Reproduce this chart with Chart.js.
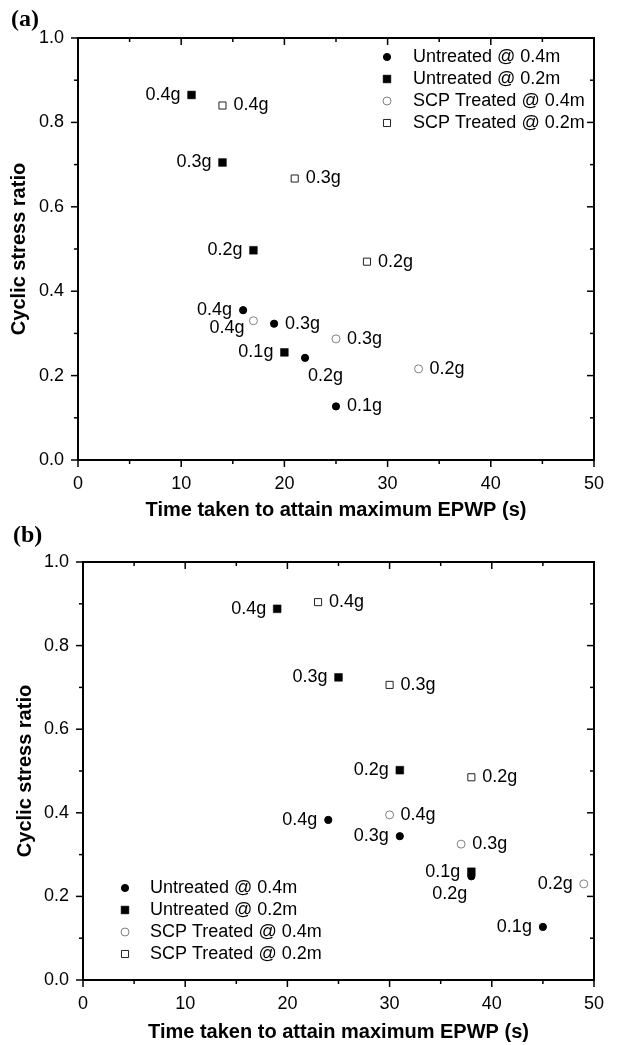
<!DOCTYPE html>
<html>
<head>
<meta charset="utf-8">
<script src="https://cdn.jsdelivr.net/npm/chart.js@4.4.1/dist/chart.umd.min.js"></script>
<style>
  body { margin: 0; background: #fff; }
  #wrap { position: relative; width: 617px; height: 1045px; }
  canvas { position: absolute; left: 0; top: 0; }
</style>
</head>
<body>
<div id="wrap">
  <canvas id="ca" width="617" height="1045"></canvas>
  <canvas id="cb" width="617" height="1045"></canvas>
</div>
<script>
// ---- data: panel (a)
const aU04x = [16, 19, 22, 25];
const aU04y = [0.355, 0.323, 0.242, 0.127];
const aU04g = ["0.4g", "0.3g", "0.2g", "0.1g"];
const aU02x = [11, 14, 17, 20];
const aU02y = [0.865, 0.705, 0.497, 0.255];
const aU02g = ["0.4g", "0.3g", "0.2g", "0.1g"];
const aS04x = [17, 25, 33];
const aS04y = [0.33, 0.287, 0.216];
const aS04g = ["0.4g", "0.3g", "0.2g"];
const aS02x = [14, 21, 28];
const aS02y = [0.84, 0.667, 0.47];
const aS02g = ["0.4g", "0.3g", "0.2g"];

// ---- data: panel (b)
const bU04x = [24, 31, 38, 45];
const bU04y = [0.383, 0.344, 0.248, 0.127];
const bU04g = ["0.4g", "0.3g", "0.2g", "0.1g"];
const bU02x = [19, 25, 31, 38];
const bU02y = [0.888, 0.724, 0.502, 0.259];
const bU02g = ["0.4g", "0.3g", "0.2g", "0.1g"];
const bS04x = [30, 37, 49];
const bS04y = [0.395, 0.325, 0.23];
const bS04g = ["0.4g", "0.3g", "0.2g"];
const bS02x = [23, 30, 38];
const bS02y = [0.904, 0.706, 0.485];
const bS02g = ["0.4g", "0.3g", "0.2g"];

const seriesNames = ["Untreated @ 0.4m", "Untreated @ 0.2m", "SCP Treated @ 0.4m", "SCP Treated @ 0.2m"];
const xTicks = [0, 10, 20, 30, 40, 50];
const yTicks = [0, 0.2, 0.4, 0.6, 0.8, 1.0];

const FONT = "'Liberation Sans', Arial, sans-serif";

function pts(xs, ys) {
  return xs.map((x, i) => ({ x: x, y: ys[i] }));
}

// marker styles for the 4 series
const styles = [
  { pointStyle: "circle", pointRadius: 3.6, backgroundColor: "#000", borderColor: "#000", borderWidth: 1 },
  { pointStyle: "rect", pointRadius: 5.5, backgroundColor: "#000", borderColor: "#000", borderWidth: 0.5 },
  { pointStyle: "circle", pointRadius: 4, backgroundColor: "#fff", borderColor: "#808080", borderWidth: 1 },
  { pointStyle: "rect", pointRadius: 5, backgroundColor: "#fff", borderColor: "#222", borderWidth: 1 },
];

function line(ctx, x1, y1, x2, y2) {
  ctx.beginPath();
  ctx.moveTo(x1, y1);
  ctx.lineTo(x2, y2);
  ctx.stroke();
}

function marker(ctx, st, x, y) {
  ctx.fillStyle = st.backgroundColor;
  ctx.strokeStyle = st.borderColor;
  ctx.lineWidth = st.borderWidth;
  ctx.beginPath();
  if (st.pointStyle === "circle") {
    ctx.arc(x, y, st.pointRadius, 0, Math.PI * 2);
  } else {
    const s = st.pointRadius * Math.SQRT1_2;
    ctx.rect(x - s, y - s, 2 * s, 2 * s);
  }
  ctx.fill();
  if (st.borderWidth > 0) ctx.stroke();
}

// frame, minor ticks, point tags, legend, panel letter
const decor = {
  id: "decor",
  afterDatasetsDraw(chart, args, opts) {
    const ctx = chart.ctx;
    ctx.save();
    ctx.font = "18px " + FONT;
    ctx.fillStyle = "#000";
    ctx.textBaseline = "middle";
    chart.data.datasets.forEach((ds, i) => {
      const meta = chart.getDatasetMeta(i);
      meta.data.forEach((pt, j) => {
        const p = opts.place[i][j];
        let x = pt.x, y = pt.y;
        if (p === "l") { ctx.textAlign = "right"; x -= 11; }
        else if (p === "r") { ctx.textAlign = "left"; x += 11; }
        else if (p === "b") { ctx.textAlign = "left"; x += 3; y += 18; }
        else if (p === "bl") { ctx.textAlign = "right"; x -= 4; y += 18; }
        else if (p === "lb") { ctx.textAlign = "right"; x -= 9; y += 7; }
        ctx.fillText(ds.tags[j], x, y);
      });
    });
    ctx.restore();
  },
  afterDraw(chart, args, opts) {
    const ctx = chart.ctx;
    const { left, right, top, bottom } = chart.chartArea;
    const xs = chart.scales.x, ys = chart.scales.y;
    ctx.save();
    ctx.strokeStyle = "#000";
    ctx.lineWidth = 2;
    ctx.strokeRect(left, top, right - left, bottom - top);
    ctx.lineWidth = 1.5;
    for (let v = xs.min; v <= xs.max + 1e-9; v += 5) {
      const px = xs.getPixelForValue(v);
      const len = Math.round(v) % 10 === 0 ? 7 : 4;
      line(ctx, px, bottom, px, bottom + len);
      line(ctx, px, top, px, top + len);
    }
    for (let k = 0; k <= 10; k++) {
      const py = ys.getPixelForValue(k / 10);
      const len = k % 2 === 0 ? 7 : 4;
      line(ctx, left - len, py, left, py);
      line(ctx, right, py, right - len, py);
    }

    // legend
    const L = opts.legend;
    ctx.font = "18px " + FONT;
    ctx.textBaseline = "middle";
    ctx.textAlign = "left";
    chart.data.datasets.forEach((ds, i) => {
      const y = L.y + i * L.gap;
      marker(ctx, styles[i], L.x, y);
      ctx.fillStyle = "#000";
      ctx.fillText(ds.label, L.textX, y);
    });

    // panel letter
    ctx.font = "bold 24px 'Liberation Serif', 'Times New Roman', serif";
    ctx.textAlign = "left";
    ctx.fillStyle = "#000";
    ctx.fillText(opts.panel.text, opts.panel.x, opts.panel.y);
    ctx.restore();
  },
};

function makeChart(id, sets, cfg) {
  const datasets = sets.map((s, i) => Object.assign({
    label: seriesNames[i],
    data: pts(s[0], s[1]),
    tags: s[2],
    showLine: false,
    pointHoverRadius: styles[i].pointRadius,
  }, styles[i]));

  return new Chart(document.getElementById(id), {
    type: "scatter",
    data: { datasets: datasets },
    plugins: [decor],
    options: {
      responsive: false,
      animation: false,
      events: [],
      layout: { padding: cfg.padding },
      plugins: {
        legend: { display: false },
        tooltip: { enabled: false },
        decor: { place: cfg.place, legend: cfg.legend, panel: cfg.panel },
      },
      scales: {
        x: {
          type: "linear",
          min: 0,
          max: 50,
          afterBuildTicks: (sc) => { sc.ticks = xTicks.map((v) => ({ value: v })); },
          afterFit: (sc) => { sc.height = cfg.xH; },
          grid: { display: false, drawTicks: false },
          border: { display: false },
          ticks: { padding: 13, color: "#000", font: { family: FONT, size: 18 } },
          title: {
            display: true,
            text: "Time taken to attain maximum EPWP (s)",
            color: "#000",
            font: { family: FONT, size: 20, weight: "bold" },
            padding: { top: 0, bottom: 0 },
          },
        },
        y: {
          type: "linear",
          min: 0,
          max: 1,
          afterBuildTicks: (sc) => { sc.ticks = yTicks.map((v) => ({ value: v })); },
          afterFit: (sc) => { sc.width = cfg.yW; },
          grid: { display: false, drawTicks: false },
          border: { display: false },
          ticks: {
            padding: 14,
            color: "#000",
            font: { family: FONT, size: 18 },
            callback: (v) => Number(v).toFixed(1),
          },
          title: {
            display: true,
            text: "Cyclic stress ratio",
            color: "#000",
            font: { family: FONT, size: 20, weight: "bold" },
            padding: { top: cfg.yTitlePad, bottom: 0 },
          },
        },
      },
    },
  });
}

makeChart("ca",
  [[aU04x, aU04y, aU04g], [aU02x, aU02y, aU02g], [aS04x, aS04y, aS04g], [aS02x, aS02y, aS02g]],
  {
    padding: { left: 0, top: 38, right: 14, bottom: 523 },
    xH: 62, yW: 78, yTitlePad: 7,
    place: [["l", "r", "b", "r"], ["l", "l", "l", "l"], ["lb", "r", "r"], ["r", "r", "r"]],
    legend: { x: 387, y: 57, gap: 22, textX: 413 },
    panel: { text: "(a)", x: 11, y: 20 },
  });

makeChart("cb",
  [[bU04x, bU04y, bU04g], [bU02x, bU02y, bU02g], [bS04x, bS04y, bS04g], [bS02x, bS02y, bS02g]],
  {
    padding: { left: 0, top: 562, right: 21, bottom: 1 },
    xH: 64, yW: 83, yTitlePad: 13,
    place: [["l", "l", "bl", "l"], ["l", "l", "l", "l"], ["r", "r", "l"], ["r", "r", "r"]],
    legend: { x: 125, y: 888, gap: 22, textX: 150 },
    panel: { text: "(b)", x: 13, y: 536 },
  });
</script>
</body>
</html>
